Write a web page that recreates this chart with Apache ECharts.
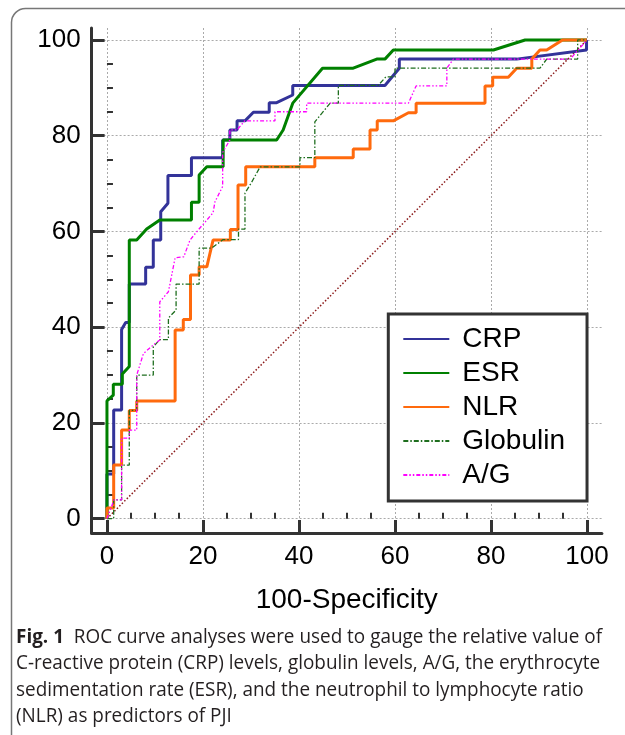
<!DOCTYPE html>
<html><head><meta charset="utf-8">
<script src="https://cdn.jsdelivr.net/npm/echarts@6/dist/echarts.min.js"></script>
<style>html,body{margin:0;padding:0;background:#fff}#c{width:625px;height:735px}</style>
</head><body><div id="c"></div>
<script>
// ---- data ----
const seriesNames = ['CRP', 'ESR', 'NLR', 'Globulin', 'A/G'];
const crpX = [0,0,1.4,1.4,3.05,3.05,3.9,4.65,4.65,8.06,8.06,9.65,9.65,11.2,11.2,12.7,12.7,17.6,17.6,24.1,24.1,25.6,25.6,27.1,27.1,28.75,30.5,33.8,33.8,35.35,38.7,38.7,57.9,60.9,60.9,85.35,99.9,99.9,100];
const crpY = [0,9.3,9.3,22.7,22.7,39.5,41.0,41.0,49.0,49.0,52.5,52.5,58.2,58.2,64.1,65.9,71.7,71.7,75.4,75.4,79.1,79.1,81.2,81.2,83.1,83.1,84.9,84.9,86.9,86.9,88.5,90.5,90.5,94.1,96.0,96.0,97.9,100,100];
const esrX = [0,0,1.32,1.32,3.2,3.2,4.65,4.65,6.19,8.27,11.0,17.6,17.6,19.2,19.2,20.8,24.2,24.2,35.35,36.7,38.7,44.9,51.3,56.2,57.9,59.65,80.5,87.1,100];
const esrY = [0,24.6,25.8,28.1,28.1,30.2,31.8,58.2,58.2,60.5,62.4,62.4,66.1,66.1,71.8,73.5,73.5,79.1,79.1,81.2,86.8,94.1,94.1,96.0,96.0,97.9,97.9,100,100];
const nlrX = [0,0,1.4,1.4,3.05,3.05,4.65,4.65,6.2,6.2,14.2,14.2,15.9,15.9,17.4,17.4,19.2,19.2,20.8,22.1,25.7,25.7,27.3,27.3,28.9,28.9,43.3,43.3,51.3,51.3,54.8,54.8,56.3,56.3,59.65,62.8,64.4,64.4,78.75,78.75,80.35,80.35,83.6,85.35,88.5,88.5,90.2,91.6,94.9,100];
const nlrY = [0,2.2,2.2,11.2,11.2,18.5,18.5,22.6,22.6,24.6,24.6,39.4,39.4,41.6,41.6,50.9,50.9,52.6,52.6,58.2,58.2,60.4,60.4,69.7,69.7,73.5,73.5,75.4,75.4,77.2,77.2,81.2,81.2,83.1,83.1,84.8,84.8,86.8,86.8,90.4,90.4,92.2,92.2,94.1,94.1,96.0,97.9,97.9,100,100];
const gloX = [0,1.4,1.4,3.05,3.05,4.65,4.65,6.2,6.2,9.65,9.65,11.0,12.8,12.8,14.4,14.4,19.2,19.2,21.8,24.2,27.4,27.4,28.75,28.75,30.1,31.9,40.2,40.2,43.3,43.3,46.5,48.2,48.2,56.5,58.1,60.0,60.0,90.2,91.6,98.05,98.05,100];
const gloY = [0,0,3.9,3.9,11.2,11.2,22.6,22.6,30.0,30.0,35.9,37.4,37.4,41.9,43.6,49.0,49.0,56.5,56.5,58.3,58.3,60.5,60.5,68.0,70.2,73.5,73.5,75.4,75.4,82.9,86.8,86.8,90.5,90.5,92.3,92.3,94.1,94.1,96.0,96.0,100,100];
const agX = [0,1.46,3.05,3.05,4.65,4.65,6.2,6.2,7.6,9.65,11.0,11.0,12.8,14.2,16.0,17.3,19.0,20.4,22.1,22.5,24.1,24.1,25.6,25.6,27.1,28.7,35.0,35.0,41.6,41.6,62.8,64.4,70.8,70.8,72.15,96.5,100];
const agY = [0,3.9,3.9,16.8,16.8,18.5,18.5,30.0,34.5,36.3,37.3,45.3,47.4,54.5,54.7,58.2,60.3,61.9,63.9,66.2,69.4,76.5,79.1,81.2,81.2,83.1,83.1,85.0,85.0,86.8,86.8,90.4,90.4,94.1,96.0,96.0,100];
const refX = [0, 100];
const refY = [0, 100];
const majorTicks = [0, 20, 40, 60, 80, 100];
const minorTicks = [5, 10, 15, 25, 30, 35, 45, 50, 55, 65, 70, 75, 85, 90, 95];
const xAxisTitle = '100-Specificity';
const captionBold = 'Fig. 1';
const captionLines = [
  '  ROC curve analyses were used to gauge the relative value of',
  'C-reactive protein (CRP) levels, globulin levels, A/G, the erythrocyte',
  'sedimentation rate (ESR), and the neutrophil to lymphocyte ratio',
  '(NLR) as predictors of PJI'
];

// ---- styling ----
const zip = (xs, ys) => xs.map((x, i) => [x, ys[i]]);
const styles = [
  { color: '#333399', width: 3, type: 'solid' },
  { color: '#008000', width: 3, type: 'solid' },
  { color: '#ff6a0d', width: 3, type: 'solid' },
  { color: '#1e6e1e', width: 1.3, type: [5, 2, 1.5, 2] },
  { color: '#ff00ff', width: 1.3, type: [4, 2, 1.5, 2, 1.5, 2] }
];
const dataSets = [zip(crpX, crpY), zip(esrX, esrY), zip(nlrX, nlrY), zip(gloX, gloY), zip(agX, agY)];
const FONT = '"Liberation Sans", Arial, sans-serif';
const axisColor = '#333';

const series = [{
  name: 'ref', type: 'line', data: zip(refX, refY), symbol: 'none', silent: true,
  lineStyle: { color: '#8b1a1a', width: 1.5, type: [1.5, 2] }, z: 1
}].concat(seriesNames.map((n, i) => ({
  name: n, type: 'line', data: dataSets[i], symbol: 'none', showSymbol: false,
  lineStyle: { color: styles[i].color, width: styles[i].width, type: styles[i].type },
  itemStyle: { color: styles[i].color }, z: 2 + i
})));

const chart = echarts.init(document.getElementById('c'), null, { renderer: 'canvas' });

// caption width fit
const capFont = '"Open Sans", "Noto Sans", sans-serif';
const capSize = 19.5;
const ctx = document.createElement('canvas').getContext('2d');
ctx.font = 'bold ' + capSize + 'px ' + capFont;
const wb = ctx.measureText(captionBold).width;
ctx.font = capSize + 'px ' + capFont;
const w1 = ctx.measureText(captionLines[0]).width;
const capScale = 586 / (wb + w1);
const capYs = [637, 663.5, 690, 716];
const captionGraphics = captionLines.map((t, i) => ({
  type: 'text', x: 16, y: capYs[i], scaleX: capScale, silent: true,
  style: {
    text: i === 0 ? '{b|' + captionBold + '}' + t : t,
    fontFamily: capFont, fontSize: capSize, fill: '#231f20', verticalAlign: 'middle',
    rich: { b: { fontWeight: 'bold', fontFamily: capFont, fontSize: capSize, fill: '#231f20' } }
  }
}));

const xMin = -3.2, xMax = 103.1, yMin = -3.0, yMax = 102.5;
const option = {
  animation: false,
  backgroundColor: '#fff',
  grid: { left: 91.6, right: 23.1, top: 28, bottom: 202, containLabel: false, outerBoundsMode: 'none' },
  xAxis: [{
    type: 'value', min: xMin, max: xMax, position: 'bottom',
    axisLine: { show: true, onZero: false, lineStyle: { color: axisColor, width: 3 } },
    axisTick: { show: true, inside: true, length: 13, customValues: majorTicks, lineStyle: { color: axisColor, width: 3 } },
    axisLabel: { show: true, customValues: majorTicks, margin: 11, fontSize: 26, fontFamily: FONT, color: '#000' },
    splitLine: { show: true, lineStyle: { color: '#aaa', width: 1, type: [2, 2] } },
    name: xAxisTitle, nameLocation: 'middle', nameGap: 53,
    nameTextStyle: { fontSize: 28, fontFamily: FONT, color: '#000' }
  }, {
    type: 'value', min: xMin, max: xMax, position: 'bottom',
    axisLine: { show: false }, splitLine: { show: false }, axisLabel: { show: false },
    axisTick: { show: true, inside: true, length: 6, customValues: minorTicks, lineStyle: { color: axisColor, width: 2 } }
  }],
  yAxis: [{
    type: 'value', min: yMin, max: yMax, position: 'left',
    axisLine: { show: true, onZero: false, lineStyle: { color: axisColor, width: 3 } },
    axisTick: { show: true, inside: true, length: 13, customValues: majorTicks, lineStyle: { color: axisColor, width: 3 } },
    axisLabel: { show: true, customValues: majorTicks, margin: 11, fontSize: 26, fontFamily: FONT, color: '#000' },
    splitLine: { show: true, lineStyle: { color: '#aaa', width: 1, type: [2, 2] } }
  }, {
    type: 'value', min: yMin, max: yMax, position: 'left',
    axisLine: { show: false }, splitLine: { show: false }, axisLabel: { show: false },
    axisTick: { show: true, inside: true, length: 6, customValues: minorTicks, lineStyle: { color: axisColor, width: 2 } }
  }],
  legend: {
    data: seriesNames, orient: 'vertical', left: 388.3, top: 314,
    itemWidth: 46, itemHeight: 14, itemGap: 6,
    padding: [11, 22, 12, 14],
    borderColor: '#333', borderWidth: 3, backgroundColor: '#fff', borderRadius: 0,
    selectedMode: false,
    itemStyle: { opacity: 0 },
    textStyle: { fontSize: 28, fontFamily: FONT, color: '#000', lineHeight: 28, padding: [0, 0, 0, 8] }
  },
  graphic: [{
    type: 'rect', silent: true, z: 100,
    shape: { x: 11.5, y: 8.5, width: 700, height: 800, r: 14 },
    style: { fill: 'none', stroke: '#777', lineWidth: 1.5 }
  }].concat(captionGraphics),
  series: series
};
chart.setOption(option);
</script>
</body></html>
